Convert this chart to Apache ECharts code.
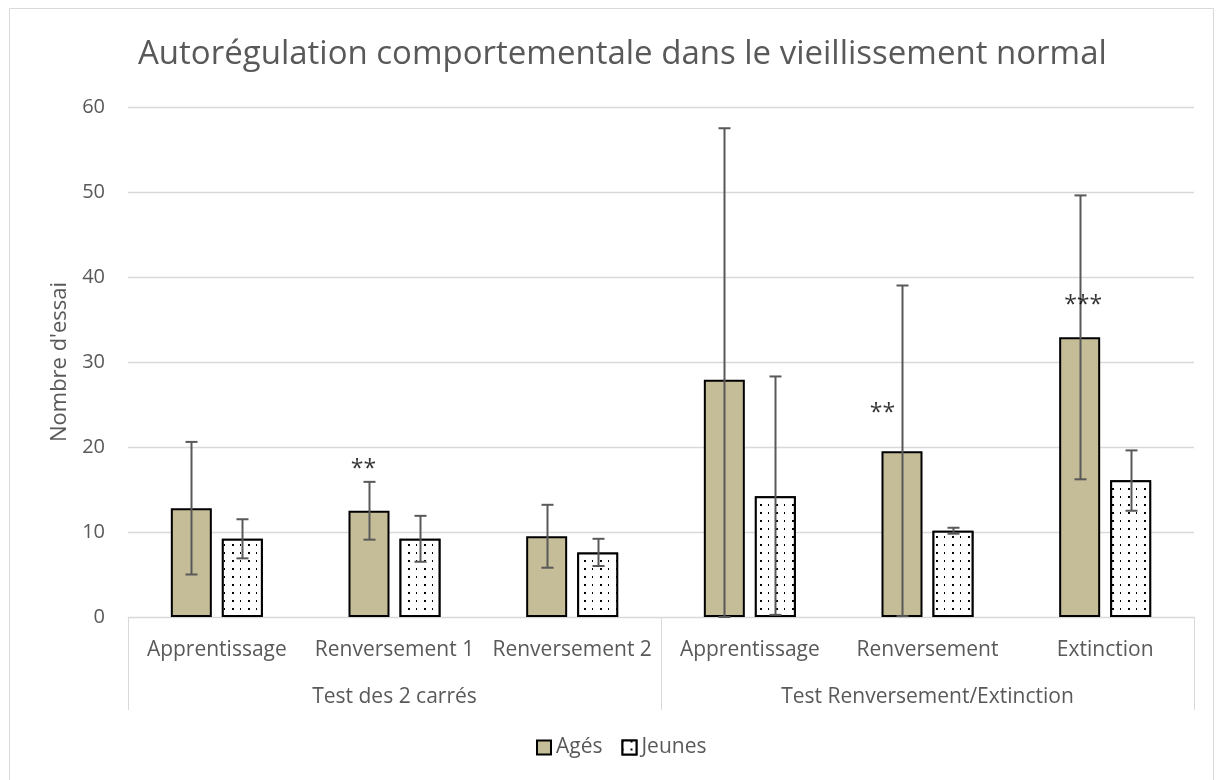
<!DOCTYPE html>
<html>
<head>
<meta charset="utf-8">
<script src="https://cdn.jsdelivr.net/npm/echarts@6/dist/echarts.min.js"></script>
<style>
  html, body { margin: 0; padding: 0; background: #fff; }
  #chart { width: 1223px; height: 780px; }
</style>
</head>
<body>
<div id="chart"></div>
<script>
// ---- Data ----
const categories = ['Apprentissage', 'Renversement 1', 'Renversement 2', 'Apprentissage', 'Renversement', 'Extinction'];
const groups = ['Test des 2 carrés', 'Test Renversement/Extinction'];
const agesValues = [12.8, 12.5, 9.5, 27.9, 19.5, 32.9];
const agesLow    = [5.0, 9.1, 5.8, 0.0, 0.1, 16.2];
const agesHigh   = [20.6, 15.9, 13.2, 57.5, 39.0, 49.6];
const jeunesValues = [9.2, 9.2, 7.6, 14.2, 10.15, 16.1];
const jeunesLow    = [6.9, 6.5, 6.0, 0.25, 9.8, 12.5];
const jeunesHigh   = [11.5, 11.9, 9.2, 28.3, 10.5, 19.6];
const yTicks = [0, 10, 20, 30, 40, 50, 60];
// significance marks: [category index, value, text]
const sigCategory = [1, 4, 5];
const sigValue = [18.1, 24.6, 37.3];
const sigText = ['**', '**', '***'];

// ---- Styling ----
const FONT = 'Open Sans';
const TXT = '#595959';
const GRIDC = '#d9d9d9';
const BAR_W = 41;
const BAR_GAP_PX = 10;
const HALF = (BAR_W + BAR_GAP_PX) / 2;
const sigDx = [-31, -45, -22];

function errSeries(name, lows, highs, dx) {
  return {
    name: name + '_err',
    type: 'custom',
    xAxisIndex: 0, yAxisIndex: 0,
    z: 10,
    silent: true,
    encode: { x: 0, y: [1, 2] },
    data: lows.map((l, i) => [i, l, highs[i]]),
    renderItem: function (params, api) {
      const c = api.value(0);
      const lo = api.coord([c, api.value(1)]);
      const hi = api.coord([c, api.value(2)]);
      const x = Math.round(lo[0] + dx) + 0.5;
      const cap = 6;
      const st = { stroke: '#595959', lineWidth: 2 };
      return {
        type: 'group',
        children: [
          { type: 'line', shape: { x1: x, y1: lo[1], x2: x, y2: hi[1] }, style: st },
          { type: 'line', shape: { x1: x - cap, y1: lo[1], x2: x + cap, y2: lo[1] }, style: st },
          { type: 'line', shape: { x1: x - cap, y1: hi[1], x2: x + cap, y2: hi[1] }, style: st }
        ]
      };
    }
  };
}

const chart = echarts.init(document.getElementById('chart'));
const option = {
  backgroundColor: '#fff',
  animation: false,
  textStyle: { fontFamily: FONT },
  graphic: [{
    type: 'rect', silent: true, z: -10,
    shape: { x: 9.5, y: 8.5, width: 1204, height: 800 },
    style: { fill: 'none', stroke: GRIDC, lineWidth: 1 }
  }],
  title: {
    text: 'Autorégulation comportementale dans le vieillissement normal',
    left: 133, top: 33,
    textStyle: { fontFamily: FONT, fontSize: 33, fontWeight: 'normal', color: TXT }
  },
  legend: {
    data: ['Agés', 'Jeunes'],
    left: 536, top: 737, padding: 0,
    itemWidth: 14, itemHeight: 14, itemGap: 19,
    icon: 'rect',
    textStyle: { fontFamily: FONT, fontSize: 21, color: TXT }
  },
  grid: { left: 128, right: 29, top: 107, bottom: 163, containLabel: false },
  xAxis: [{
    type: 'category',
    data: categories,
    position: 'bottom',
    axisLine: { show: true, lineStyle: { color: GRIDC, width: 1 } },
    axisTick: { show: false },
    axisLabel: { interval: 0, margin: 23, fontFamily: FONT, fontSize: 21, color: TXT }
  }, {
    type: 'category',
    data: groups,
    position: 'bottom',
    boundaryGap: true,
    axisLine: { show: false },
    axisTick: { show: true, length: 93, alignWithLabel: false, lineStyle: { color: GRIDC, width: 1 } },
    axisLabel: { interval: 0, margin: 70, fontFamily: FONT, fontSize: 21, color: TXT }
  }],
  yAxis: {
    type: 'value',
    min: yTicks[0], max: yTicks[yTicks.length - 1], interval: 10,
    name: "Nombre d'essai",
    nameLocation: 'middle', nameRotate: 90, nameGap: 56,
    nameTextStyle: { fontFamily: FONT, fontSize: 22, color: TXT },
    axisLine: { show: false },
    axisTick: { show: false },
    axisLabel: { margin: 23, fontFamily: FONT, fontSize: 20, color: TXT },
    splitLine: { lineStyle: { color: GRIDC, width: 1.3 } }
  },
  series: [{
    name: 'Agés', type: 'bar',
    data: agesValues,
    barWidth: BAR_W, barGap: (BAR_GAP_PX / BAR_W * 100).toFixed(1) + '%',
    itemStyle: { color: '#c4bd97', borderColor: '#000', borderWidth: 2 }
  }, {
    name: 'Jeunes', type: 'bar',
    data: jeunesValues,
    barWidth: BAR_W,
    itemStyle: {
      color: '#fff', borderColor: '#000', borderWidth: 2,
      decal: {
        symbol: 'rect', symbolSize: 1, color: '#000', backgroundColor: '#fff',
        dashArrayX: [[1, 7, 2, 6]], dashArrayY: [2, 6], rotation: 0
      }
    }
  },
  errSeries('Agés', agesLow, agesHigh, -HALF),
  errSeries('Jeunes', jeunesLow, jeunesHigh, HALF),
  {
    name: 'sig', type: 'scatter',
    symbolSize: 0, z: 12, silent: true,
    data: sigCategory.map((c, i) => ({
      value: [c, sigValue[i]],
      label: { offset: [sigDx[i], 6] }
    })),
    label: {
      show: true, position: 'inside',
      formatter: p => sigText[p.dataIndex],
      fontFamily: FONT, fontSize: 23, color: '#000', fontWeight: 'normal'
    }
  }]
};
chart.setOption(option);
</script>
</body>
</html>
